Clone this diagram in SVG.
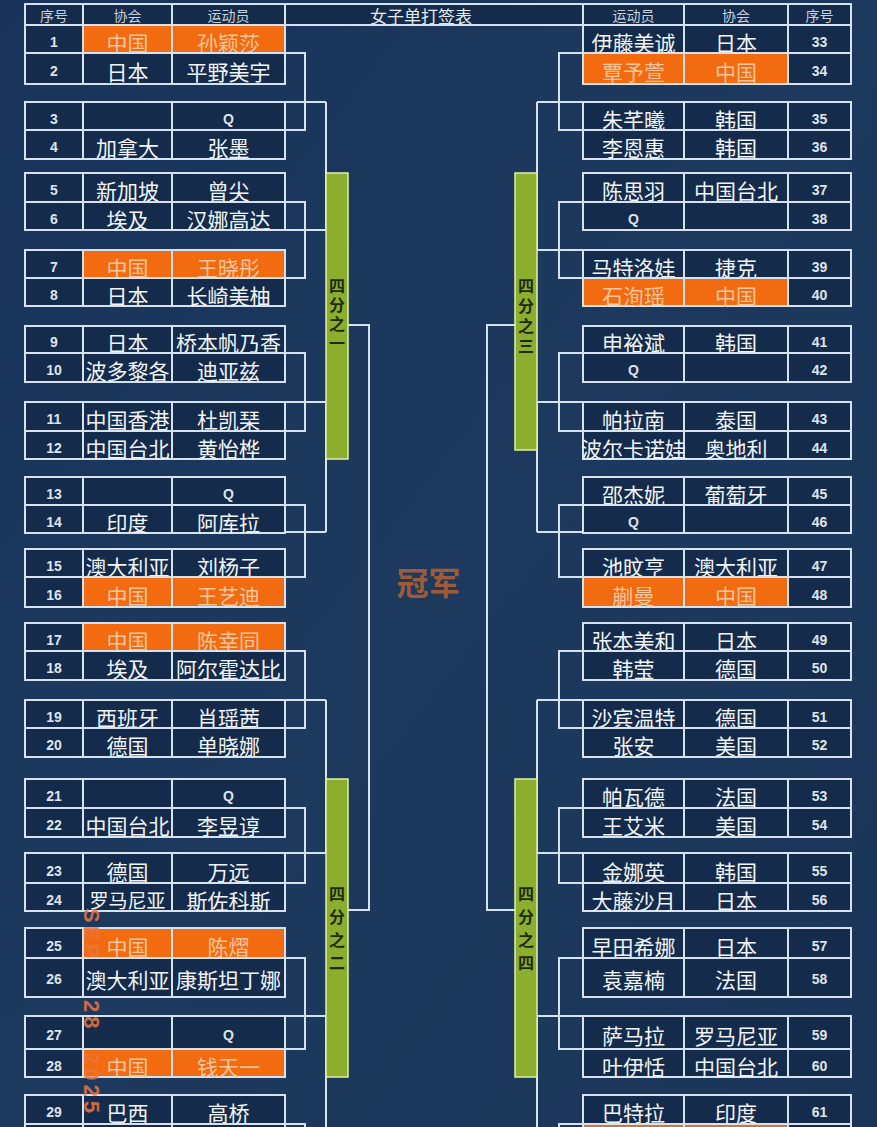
<svg xmlns="http://www.w3.org/2000/svg" width="877" height="1127" viewBox="0 0 877 1127">
<defs>
<linearGradient id="bg" x1="0" y1="0" x2="1" y2="1">
<stop offset="0" stop-color="#19335a"/>
<stop offset="0.5" stop-color="#1d3a5e"/>
<stop offset="1" stop-color="#1a3558"/>
</linearGradient>
<style>
.c{fill:#142b4b;stroke:#d6e3ef;stroke-width:2}
.o{fill:#f26b10;stroke:#d6e3ef;stroke-width:2}
.t{font-family:"Noto Sans CJK SC","Noto Sans",sans-serif;font-size:21px;fill:#f2f5f8;text-anchor:middle;dominant-baseline:central}
.to{fill:#f8c59c}
.n{font-family:"Liberation Sans",Arial,sans-serif;font-size:14px;font-weight:bold;fill:#dfe4ea;text-anchor:middle;dominant-baseline:central}
.h{font-family:"Noto Sans CJK SC",sans-serif;font-size:14px;fill:#c9d1db;text-anchor:middle;dominant-baseline:central}
.ln{stroke:#d6e3ef;stroke-width:2;fill:none}
.bar{fill:#8cae2e;stroke:#e2eea4;stroke-width:1.5}
.bt{font-family:"Noto Sans CJK SC",sans-serif;font-size:16px;font-weight:bold;fill:#1c2a0c;text-anchor:middle;writing-mode:vertical-rl}
.wm{font-family:"Liberation Sans",Arial,sans-serif;font-size:22px;font-weight:bold;fill:#ec7442;opacity:0.85}
</style>
</defs>
<rect width="877" height="1127" fill="url(#bg)"/>

<g id="header">
<rect class="c" x="25" y="4" width="58" height="21"/>
<rect class="c" x="83" y="4" width="89" height="21"/>
<rect class="c" x="172" y="4" width="113" height="21"/>
<rect class="c" x="285" y="4" width="298" height="21"/>
<rect class="c" x="583" y="4" width="101" height="21"/>
<rect class="c" x="684" y="4" width="104" height="21"/>
<rect class="c" x="788" y="4" width="63" height="21"/>
<text class="h" x="54" y="15">序号</text>
<text class="h" x="127.5" y="15">协会</text>
<text class="h" x="228.5" y="15">运动员</text>
<text class="h" x="421" y="15" style="font-size:17px;fill:#e6ebf0">女子单打签表</text>
<text class="h" x="633.5" y="15">运动员</text>
<text class="h" x="736" y="15">协会</text>
<text class="h" x="819.5" y="15">序号</text>
</g>

<g id="connectors">
<path class="ln" d="M285 53H305V130H285M285 102H326M285 202H305V278H285M285 230H326M326 102V230M285 353H305V431H285M285 402H326M285 505H305V577H285M285 532H326M326 402V532M348 325H369V910H348M285 651H305V728H285M285 700H326M285 808H305V883H285M285 853H326M326 700V853M285 958H305V1049H285M285 1016H326M326 1016V1130M285 1124H305V1130"/>
<path class="ln" d="M583 53H559V130H583M583 102H537M583 202H559V278H583M583 250H537M537 102V250M583 353H559V431H583M583 402H537M583 505H559V577H583M583 532H537M537 402V532M515 325H487V910H515M583 651H559V728H583M583 700H537M583 808H559V883H583M583 853H537M537 700V853M583 958H559V1049H583M583 1016H537M537 1016V1130M583 1124H559V1130"/>
</g>

<g id="q1"><rect class="bar" x="326" y="173" width="22" height="286"/><text class="bt" x="337" y="316" letter-spacing="3">四分之一</text></g>
<g id="q2"><rect class="bar" x="326" y="779" width="22" height="298"/><text class="bt" x="337" y="932" letter-spacing="7">四分之二</text></g>
<g id="q3"><rect class="bar" x="515" y="173" width="22" height="277"/><text class="bt" x="526" y="318" letter-spacing="4">四分之三</text></g>
<g id="q4"><rect class="bar" x="515" y="779" width="22" height="298"/><text class="bt" x="526" y="932" letter-spacing="7">四分之四</text></g>

<g id="champion"><text x="428.5" y="581" style="font-family:'Noto Sans CJK SC',sans-serif;font-size:32px;font-weight:bold;fill:#9d5b38;text-anchor:middle;dominant-baseline:central">冠军</text></g>

<!-- left side players -->
<g id="p1"><rect class="c" x="25" y="25" width="58" height="28"/><rect class="o" x="83" y="25" width="89" height="28"/><rect class="o" x="172" y="25" width="113" height="28"/><text class="n" x="54" y="41.5">1</text><text class="t to" x="127.5" y="41.5">中国</text><text class="t to" x="228.5" y="41.5">孙颖莎</text></g>
<g id="p2"><rect class="c" x="25" y="53" width="58" height="31"/><rect class="c" x="83" y="53" width="89" height="31"/><rect class="c" x="172" y="53" width="113" height="31"/><text class="n" x="54" y="71">2</text><text class="t" x="127.5" y="71">日本</text><text class="t" x="228.5" y="71">平野美宇</text></g>
<g id="p3"><rect class="c" x="25" y="102" width="58" height="28"/><rect class="c" x="83" y="102" width="89" height="28"/><rect class="c" x="172" y="102" width="113" height="28"/><text class="n" x="54" y="118.5">3</text><text class="n" x="228.5" y="118.5">Q</text></g>
<g id="p4"><rect class="c" x="25" y="130" width="58" height="29"/><rect class="c" x="83" y="130" width="89" height="29"/><rect class="c" x="172" y="130" width="113" height="29"/><text class="n" x="54" y="147">4</text><text class="t" x="127.5" y="147">加拿大</text><text class="t" x="228.5" y="147">张墨</text></g>
<g id="p5"><rect class="c" x="25" y="173" width="58" height="29"/><rect class="c" x="83" y="173" width="89" height="29"/><rect class="c" x="172" y="173" width="113" height="29"/><text class="n" x="54" y="190">5</text><text class="t" x="127.5" y="190">新加坡</text><text class="t" x="228.5" y="190">曾尖</text></g>
<g id="p6"><rect class="c" x="25" y="202" width="58" height="28"/><rect class="c" x="83" y="202" width="89" height="28"/><rect class="c" x="172" y="202" width="113" height="28"/><text class="n" x="54" y="218.5">6</text><text class="t" x="127.5" y="218.5">埃及</text><text class="t" x="228.5" y="218.5">汉娜高达</text></g>
<g id="p7"><rect class="c" x="25" y="250" width="58" height="28"/><rect class="o" x="83" y="250" width="89" height="28"/><rect class="o" x="172" y="250" width="113" height="28"/><text class="n" x="54" y="266.5">7</text><text class="t to" x="127.5" y="266.5">中国</text><text class="t to" x="228.5" y="266.5">王晓彤</text></g>
<g id="p8"><rect class="c" x="25" y="278" width="58" height="28"/><rect class="c" x="83" y="278" width="89" height="28"/><rect class="c" x="172" y="278" width="113" height="28"/><text class="n" x="54" y="294.5">8</text><text class="t" x="127.5" y="294.5">日本</text><text class="t" x="228.5" y="294.5">长崎美柚</text></g>
<g id="p9"><rect class="c" x="25" y="326" width="58" height="27"/><rect class="c" x="83" y="326" width="89" height="27"/><rect class="c" x="172" y="326" width="113" height="27"/><text class="n" x="54" y="342">9</text><text class="t" x="127.5" y="342">日本</text><text class="t" x="228.5" y="342">桥本帆乃香</text></g>
<g id="p10"><rect class="c" x="25" y="353" width="58" height="29"/><rect class="c" x="83" y="353" width="89" height="29"/><rect class="c" x="172" y="353" width="113" height="29"/><text class="n" x="54" y="370">10</text><text class="t" x="127.5" y="370">波多黎各</text><text class="t" x="228.5" y="370">迪亚兹</text></g>
<g id="p11"><rect class="c" x="25" y="402" width="58" height="29"/><rect class="c" x="83" y="402" width="89" height="29"/><rect class="c" x="172" y="402" width="113" height="29"/><text class="n" x="54" y="419">11</text><text class="t" x="127.5" y="419">中国香港</text><text class="t" x="228.5" y="419">杜凯琹</text></g>
<g id="p12"><rect class="c" x="25" y="431" width="58" height="28"/><rect class="c" x="83" y="431" width="89" height="28"/><rect class="c" x="172" y="431" width="113" height="28"/><text class="n" x="54" y="447.5">12</text><text class="t" x="127.5" y="447.5">中国台北</text><text class="t" x="228.5" y="447.5">黄怡桦</text></g>
<g id="p13"><rect class="c" x="25" y="477" width="58" height="28"/><rect class="c" x="83" y="477" width="89" height="28"/><rect class="c" x="172" y="477" width="113" height="28"/><text class="n" x="54" y="493.5">13</text><text class="n" x="228.5" y="493.5">Q</text></g>
<g id="p14"><rect class="c" x="25" y="505" width="58" height="28"/><rect class="c" x="83" y="505" width="89" height="28"/><rect class="c" x="172" y="505" width="113" height="28"/><text class="n" x="54" y="521.5">14</text><text class="t" x="127.5" y="521.5">印度</text><text class="t" x="228.5" y="521.5">阿库拉</text></g>
<g id="p15"><rect class="c" x="25" y="549" width="58" height="28"/><rect class="c" x="83" y="549" width="89" height="28"/><rect class="c" x="172" y="549" width="113" height="28"/><text class="n" x="54" y="565.5">15</text><text class="t" x="127.5" y="565.5">澳大利亚</text><text class="t" x="228.5" y="565.5">刘杨子</text></g>
<g id="p16"><rect class="c" x="25" y="577" width="58" height="30"/><rect class="o" x="83" y="577" width="89" height="30"/><rect class="o" x="172" y="577" width="113" height="30"/><text class="n" x="54" y="594.5">16</text><text class="t to" x="127.5" y="594.5">中国</text><text class="t to" x="228.5" y="594.5">王艺迪</text></g>
<g id="p17"><rect class="c" x="25" y="623" width="58" height="28"/><rect class="o" x="83" y="623" width="89" height="28"/><rect class="o" x="172" y="623" width="113" height="28"/><text class="n" x="54" y="639.5">17</text><text class="t to" x="127.5" y="639.5">中国</text><text class="t to" x="228.5" y="639.5">陈幸同</text></g>
<g id="p18"><rect class="c" x="25" y="651" width="58" height="29"/><rect class="c" x="83" y="651" width="89" height="29"/><rect class="c" x="172" y="651" width="113" height="29"/><text class="n" x="54" y="668">18</text><text class="t" x="127.5" y="668">埃及</text><text class="t" x="228.5" y="668">阿尔霍达比</text></g>
<g id="p19"><rect class="c" x="25" y="700" width="58" height="28"/><rect class="c" x="83" y="700" width="89" height="28"/><rect class="c" x="172" y="700" width="113" height="28"/><text class="n" x="54" y="716.5">19</text><text class="t" x="127.5" y="716.5">西班牙</text><text class="t" x="228.5" y="716.5">肖瑶茜</text></g>
<g id="p20"><rect class="c" x="25" y="728" width="58" height="29"/><rect class="c" x="83" y="728" width="89" height="29"/><rect class="c" x="172" y="728" width="113" height="29"/><text class="n" x="54" y="745">20</text><text class="t" x="127.5" y="745">德国</text><text class="t" x="228.5" y="745">单晓娜</text></g>
<g id="p21"><rect class="c" x="25" y="779" width="58" height="29"/><rect class="c" x="83" y="779" width="89" height="29"/><rect class="c" x="172" y="779" width="113" height="29"/><text class="n" x="54" y="796">21</text><text class="n" x="228.5" y="796">Q</text></g>
<g id="p22"><rect class="c" x="25" y="808" width="58" height="29"/><rect class="c" x="83" y="808" width="89" height="29"/><rect class="c" x="172" y="808" width="113" height="29"/><text class="n" x="54" y="825">22</text><text class="t" x="127.5" y="825">中国台北</text><text class="t" x="228.5" y="825">李昱谆</text></g>
<g id="p23"><rect class="c" x="25" y="853" width="58" height="30"/><rect class="c" x="83" y="853" width="89" height="30"/><rect class="c" x="172" y="853" width="113" height="30"/><text class="n" x="54" y="870.5">23</text><text class="t" x="127.5" y="870.5">德国</text><text class="t" x="228.5" y="870.5">万远</text></g>
<g id="p24"><rect class="c" x="25" y="883" width="58" height="28"/><rect class="c" x="83" y="883" width="89" height="28"/><rect class="c" x="172" y="883" width="113" height="28"/><text class="n" x="54" y="899.5">24</text><text class="t" x="127.5" y="899.5" style="font-size:19px">罗马尼亚</text><text class="t" x="228.5" y="899.5">斯佐科斯</text></g>
<g id="p25"><rect class="c" x="25" y="928" width="58" height="30"/><rect class="o" x="83" y="928" width="89" height="30"/><rect class="o" x="172" y="928" width="113" height="30"/><text class="n" x="54" y="945.5">25</text><text class="t to" x="127.5" y="945.5">中国</text><text class="t to" x="228.5" y="945.5">陈熠</text></g>
<g id="p26"><rect class="c" x="25" y="958" width="58" height="39"/><rect class="c" x="83" y="958" width="89" height="39"/><rect class="c" x="172" y="958" width="113" height="39"/><text class="n" x="54" y="979">26</text><text class="t" x="127.5" y="979">澳大利亚</text><text class="t" x="228.5" y="979">康斯坦丁娜</text></g>
<g id="p27"><rect class="c" x="25" y="1016" width="58" height="33"/><rect class="c" x="83" y="1016" width="89" height="33"/><rect class="c" x="172" y="1016" width="113" height="33"/><text class="n" x="54" y="1035">27</text><text class="n" x="228.5" y="1035">Q</text></g>
<g id="p28"><rect class="c" x="25" y="1049" width="58" height="28"/><rect class="o" x="83" y="1049" width="89" height="28"/><rect class="o" x="172" y="1049" width="113" height="28"/><text class="n" x="54" y="1065.5">28</text><text class="t to" x="127.5" y="1065.5">中国</text><text class="t to" x="228.5" y="1065.5">钱天一</text></g>
<g id="p29"><rect class="c" x="25" y="1095" width="58" height="29"/><rect class="c" x="83" y="1095" width="89" height="29"/><rect class="c" x="172" y="1095" width="113" height="29"/><text class="n" x="54" y="1112">29</text><text class="t" x="127.5" y="1112">巴西</text><text class="t" x="228.5" y="1112">高桥</text></g>
<g id="p30"><rect class="c" x="25" y="1124" width="58" height="29"/><rect class="c" x="83" y="1124" width="89" height="29"/><rect class="c" x="172" y="1124" width="113" height="29"/></g>

<!-- right side players -->
<g id="p33"><rect class="c" x="583" y="25" width="101" height="28"/><rect class="c" x="684" y="25" width="104" height="28"/><rect class="c" x="788" y="25" width="63" height="28"/><text class="t" x="633.5" y="41.5">伊藤美诚</text><text class="t" x="736" y="41.5">日本</text><text class="n" x="819.5" y="41.5">33</text></g>
<g id="p34"><rect class="o" x="583" y="53" width="101" height="31"/><rect class="o" x="684" y="53" width="104" height="31"/><rect class="c" x="788" y="53" width="63" height="31"/><text class="t to" x="633.5" y="71">覃予萱</text><text class="t to" x="736" y="71">中国</text><text class="n" x="819.5" y="71">34</text></g>
<g id="p35"><rect class="c" x="583" y="102" width="101" height="28"/><rect class="c" x="684" y="102" width="104" height="28"/><rect class="c" x="788" y="102" width="63" height="28"/><text class="t" x="633.5" y="118.5">朱芊曦</text><text class="t" x="736" y="118.5">韩国</text><text class="n" x="819.5" y="118.5">35</text></g>
<g id="p36"><rect class="c" x="583" y="130" width="101" height="29"/><rect class="c" x="684" y="130" width="104" height="29"/><rect class="c" x="788" y="130" width="63" height="29"/><text class="t" x="633.5" y="147">李恩惠</text><text class="t" x="736" y="147">韩国</text><text class="n" x="819.5" y="147">36</text></g>
<g id="p37"><rect class="c" x="583" y="173" width="101" height="29"/><rect class="c" x="684" y="173" width="104" height="29"/><rect class="c" x="788" y="173" width="63" height="29"/><text class="t" x="633.5" y="190">陈思羽</text><text class="t" x="736" y="190">中国台北</text><text class="n" x="819.5" y="190">37</text></g>
<g id="p38"><rect class="c" x="583" y="202" width="101" height="28"/><rect class="c" x="684" y="202" width="104" height="28"/><rect class="c" x="788" y="202" width="63" height="28"/><text class="n" x="633.5" y="218.5">Q</text><text class="n" x="819.5" y="218.5">38</text></g>
<g id="p39"><rect class="c" x="583" y="250" width="101" height="28"/><rect class="c" x="684" y="250" width="104" height="28"/><rect class="c" x="788" y="250" width="63" height="28"/><text class="t" x="633.5" y="266.5">马特洛娃</text><text class="t" x="736" y="266.5">捷克</text><text class="n" x="819.5" y="266.5">39</text></g>
<g id="p40"><rect class="o" x="583" y="278" width="101" height="28"/><rect class="o" x="684" y="278" width="104" height="28"/><rect class="c" x="788" y="278" width="63" height="28"/><text class="t to" x="633.5" y="294.5">石洵瑶</text><text class="t to" x="736" y="294.5">中国</text><text class="n" x="819.5" y="294.5">40</text></g>
<g id="p41"><rect class="c" x="583" y="326" width="101" height="27"/><rect class="c" x="684" y="326" width="104" height="27"/><rect class="c" x="788" y="326" width="63" height="27"/><text class="t" x="633.5" y="342">申裕斌</text><text class="t" x="736" y="342">韩国</text><text class="n" x="819.5" y="342">41</text></g>
<g id="p42"><rect class="c" x="583" y="353" width="101" height="29"/><rect class="c" x="684" y="353" width="104" height="29"/><rect class="c" x="788" y="353" width="63" height="29"/><text class="n" x="633.5" y="370">Q</text><text class="n" x="819.5" y="370">42</text></g>
<g id="p43"><rect class="c" x="583" y="402" width="101" height="29"/><rect class="c" x="684" y="402" width="104" height="29"/><rect class="c" x="788" y="402" width="63" height="29"/><text class="t" x="633.5" y="419">帕拉南</text><text class="t" x="736" y="419">泰国</text><text class="n" x="819.5" y="419">43</text></g>
<g id="p44"><rect class="c" x="583" y="431" width="101" height="28"/><rect class="c" x="684" y="431" width="104" height="28"/><rect class="c" x="788" y="431" width="63" height="28"/><text class="t" x="633.5" y="447.5">波尔卡诺娃</text><text class="t" x="736" y="447.5">奥地利</text><text class="n" x="819.5" y="447.5">44</text></g>
<g id="p45"><rect class="c" x="583" y="477" width="101" height="28"/><rect class="c" x="684" y="477" width="104" height="28"/><rect class="c" x="788" y="477" width="63" height="28"/><text class="t" x="633.5" y="493.5">邵杰妮</text><text class="t" x="736" y="493.5">葡萄牙</text><text class="n" x="819.5" y="493.5">45</text></g>
<g id="p46"><rect class="c" x="583" y="505" width="101" height="28"/><rect class="c" x="684" y="505" width="104" height="28"/><rect class="c" x="788" y="505" width="63" height="28"/><text class="n" x="633.5" y="521.5">Q</text><text class="n" x="819.5" y="521.5">46</text></g>
<g id="p47"><rect class="c" x="583" y="549" width="101" height="28"/><rect class="c" x="684" y="549" width="104" height="28"/><rect class="c" x="788" y="549" width="63" height="28"/><text class="t" x="633.5" y="565.5">池旼亨</text><text class="t" x="736" y="565.5">澳大利亚</text><text class="n" x="819.5" y="565.5">47</text></g>
<g id="p48"><rect class="o" x="583" y="577" width="101" height="30"/><rect class="o" x="684" y="577" width="104" height="30"/><rect class="c" x="788" y="577" width="63" height="30"/><text class="t to" x="633.5" y="594.5">蒯曼</text><text class="t to" x="736" y="594.5">中国</text><text class="n" x="819.5" y="594.5">48</text></g>
<g id="p49"><rect class="c" x="583" y="623" width="101" height="28"/><rect class="c" x="684" y="623" width="104" height="28"/><rect class="c" x="788" y="623" width="63" height="28"/><text class="t" x="633.5" y="639.5">张本美和</text><text class="t" x="736" y="639.5">日本</text><text class="n" x="819.5" y="639.5">49</text></g>
<g id="p50"><rect class="c" x="583" y="651" width="101" height="29"/><rect class="c" x="684" y="651" width="104" height="29"/><rect class="c" x="788" y="651" width="63" height="29"/><text class="t" x="633.5" y="668">韩莹</text><text class="t" x="736" y="668">德国</text><text class="n" x="819.5" y="668">50</text></g>
<g id="p51"><rect class="c" x="583" y="700" width="101" height="28"/><rect class="c" x="684" y="700" width="104" height="28"/><rect class="c" x="788" y="700" width="63" height="28"/><text class="t" x="633.5" y="716.5">沙宾温特</text><text class="t" x="736" y="716.5">德国</text><text class="n" x="819.5" y="716.5">51</text></g>
<g id="p52"><rect class="c" x="583" y="728" width="101" height="29"/><rect class="c" x="684" y="728" width="104" height="29"/><rect class="c" x="788" y="728" width="63" height="29"/><text class="t" x="633.5" y="745">张安</text><text class="t" x="736" y="745">美国</text><text class="n" x="819.5" y="745">52</text></g>
<g id="p53"><rect class="c" x="583" y="779" width="101" height="29"/><rect class="c" x="684" y="779" width="104" height="29"/><rect class="c" x="788" y="779" width="63" height="29"/><text class="t" x="633.5" y="796">帕瓦德</text><text class="t" x="736" y="796">法国</text><text class="n" x="819.5" y="796">53</text></g>
<g id="p54"><rect class="c" x="583" y="808" width="101" height="29"/><rect class="c" x="684" y="808" width="104" height="29"/><rect class="c" x="788" y="808" width="63" height="29"/><text class="t" x="633.5" y="825">王艾米</text><text class="t" x="736" y="825">美国</text><text class="n" x="819.5" y="825">54</text></g>
<g id="p55"><rect class="c" x="583" y="853" width="101" height="30"/><rect class="c" x="684" y="853" width="104" height="30"/><rect class="c" x="788" y="853" width="63" height="30"/><text class="t" x="633.5" y="870.5">金娜英</text><text class="t" x="736" y="870.5">韩国</text><text class="n" x="819.5" y="870.5">55</text></g>
<g id="p56"><rect class="c" x="583" y="883" width="101" height="28"/><rect class="c" x="684" y="883" width="104" height="28"/><rect class="c" x="788" y="883" width="63" height="28"/><text class="t" x="633.5" y="899.5">大藤沙月</text><text class="t" x="736" y="899.5">日本</text><text class="n" x="819.5" y="899.5">56</text></g>
<g id="p57"><rect class="c" x="583" y="928" width="101" height="30"/><rect class="c" x="684" y="928" width="104" height="30"/><rect class="c" x="788" y="928" width="63" height="30"/><text class="t" x="633.5" y="945.5">早田希娜</text><text class="t" x="736" y="945.5">日本</text><text class="n" x="819.5" y="945.5">57</text></g>
<g id="p58"><rect class="c" x="583" y="958" width="101" height="39"/><rect class="c" x="684" y="958" width="104" height="39"/><rect class="c" x="788" y="958" width="63" height="39"/><text class="t" x="633.5" y="979">袁嘉楠</text><text class="t" x="736" y="979">法国</text><text class="n" x="819.5" y="979">58</text></g>
<g id="p59"><rect class="c" x="583" y="1016" width="101" height="33"/><rect class="c" x="684" y="1016" width="104" height="33"/><rect class="c" x="788" y="1016" width="63" height="33"/><text class="t" x="633.5" y="1035">萨马拉</text><text class="t" x="736" y="1035">罗马尼亚</text><text class="n" x="819.5" y="1035">59</text></g>
<g id="p60"><rect class="c" x="583" y="1049" width="101" height="28"/><rect class="c" x="684" y="1049" width="104" height="28"/><rect class="c" x="788" y="1049" width="63" height="28"/><text class="t" x="633.5" y="1065.5">叶伊恬</text><text class="t" x="736" y="1065.5">中国台北</text><text class="n" x="819.5" y="1065.5">60</text></g>
<g id="p61"><rect class="c" x="583" y="1095" width="101" height="29"/><rect class="c" x="684" y="1095" width="104" height="29"/><rect class="c" x="788" y="1095" width="63" height="29"/><text class="t" x="633.5" y="1112">巴特拉</text><text class="t" x="736" y="1112">印度</text><text class="n" x="819.5" y="1112">61</text></g>
<g id="p62"><rect class="o" x="583" y="1124" width="101" height="29"/><rect class="o" x="684" y="1124" width="104" height="29"/><rect class="c" x="788" y="1124" width="63" height="29"/></g>

<g id="watermark">
<text class="wm" transform="translate(84 908) rotate(90)" letter-spacing="3">SEP</text>
<text class="wm" transform="translate(84 1000) rotate(90)" letter-spacing="4">28</text>
<text class="wm" transform="translate(84 1052) rotate(90)" letter-spacing="4">2025</text>
</g>
</svg>
